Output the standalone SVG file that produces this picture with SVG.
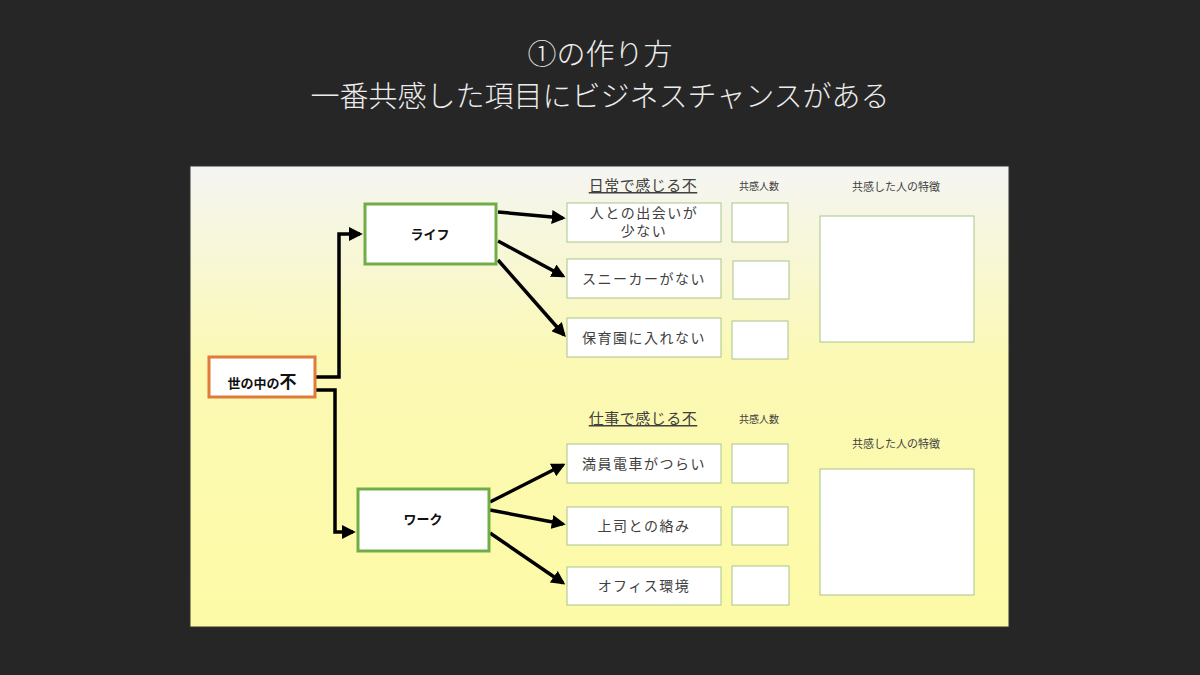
<svg xmlns="http://www.w3.org/2000/svg" width="1200" height="675" viewBox="0 0 1200 675">
<style>
.title{font-family:"Noto Sans CJK JP","Noto Sans",sans-serif;font-size:29px;fill:#ececec;text-anchor:middle;font-weight:300}
.item{fill:#fff;stroke:#a8c48c;stroke-width:1}
.it{font-family:"Noto Sans CJK JP",sans-serif;font-size:14px;fill:#404040;text-anchor:middle;letter-spacing:1.5px}
.hd{font-family:"Noto Sans CJK JP",sans-serif;font-size:15px;fill:#404040;text-anchor:middle;text-decoration:underline;letter-spacing:0.5px}
.sm{font-family:"Noto Sans CJK JP",sans-serif;font-size:10px;fill:#404040;text-anchor:middle}
.sm2{font-family:"Noto Sans CJK JP",sans-serif;font-size:11px;fill:#404040;text-anchor:middle}
.nb{font-family:"Noto Sans CJK JP",sans-serif;font-size:13px;font-weight:bold;fill:#111;text-anchor:middle}
.con{fill:none;stroke:#000;stroke-width:3.5;marker-end:url(#ah)}
</style>
<defs>
<linearGradient id="bg" x1="0" y1="0" x2="0" y2="1">
<stop offset="0" stop-color="#f5f5f3"/>
<stop offset="0.42" stop-color="#fbf9b4"/>
<stop offset="1" stop-color="#fdfaa6"/>
</linearGradient>
<marker id="ah" markerWidth="4" markerHeight="4" refX="3.2" refY="2" orient="auto" markerUnits="strokeWidth">
<path d="M0,0 L4,2 L0,4 z" fill="#000"/>
</marker>
</defs>
<rect width="1200" height="675" fill="#262626"/>
<text class="title" x="600" y="65">①の作り方</text>
<text class="title" x="600" y="107">一番共感した項目にビジネスチャンスがある</text>
<rect x="190" y="166" width="819" height="461" fill="url(#bg)" stroke="#333" stroke-width="1"/>

<g id="connectors">
<path class="con" d="M315,377 H339 V234 H360"/>
<path class="con" d="M315,390 H335 V532 H353"/>
<path class="con" d="M498,212 L563,218"/>
<path class="con" d="M498,241 L563,276"/>
<path class="con" d="M498,260 L564,335"/>
<path class="con" d="M490,502 L563,465"/>
<path class="con" d="M490,510 L563,524"/>
<path class="con" d="M490,533 L563,583"/>
</g>

<g id="root"><rect x="209" y="357" width="106" height="40" fill="#fff" stroke="#e07b39" stroke-width="3"/>
<text class="nb" x="262" y="388">世の中の<tspan font-size="17">不</tspan></text></g>
<g id="life"><rect x="365" y="204" width="131" height="60" fill="#fff" stroke="#70ad47" stroke-width="3"/>
<text class="nb" x="430" y="239">ライフ</text></g>
<g id="work"><rect x="358" y="489" width="131" height="62" fill="#fff" stroke="#70ad47" stroke-width="3"/>
<text class="nb" x="423" y="524">ワーク</text></g>

<g id="header-life">
<text class="hd" x="643" y="191">日常で感じる不</text>
<text class="sm" x="759" y="190">共感人数</text>
<text class="sm2" x="896" y="191">共感した人の特徴</text>
</g>
<g id="l1"><rect class="item" x="567" y="203" width="154" height="39"/><text class="it" x="644" y="218">人との出会いが</text><text class="it" x="644" y="236">少ない</text></g>
<g id="l1c"><rect class="item" x="732" y="203" width="56" height="39"/></g>
<g id="l2"><rect class="item" x="567" y="259" width="154" height="39"/><text class="it" x="644" y="284">スニーカーがない</text></g>
<g id="l2c"><rect class="item" x="733" y="261" width="56" height="38"/></g>
<g id="l3"><rect class="item" x="567" y="318" width="154" height="39"/><text class="it" x="644" y="343">保育園に入れない</text></g>
<g id="l3c"><rect class="item" x="732" y="321" width="56" height="38"/></g>
<g id="lbig"><rect class="item" x="820" y="216" width="154" height="126"/></g>

<g id="header-work">
<text class="hd" x="643" y="424">仕事で感じる不</text>
<text class="sm" x="759" y="423">共感人数</text>
<text class="sm2" x="896" y="448">共感した人の特徴</text>
</g>
<g id="w1"><rect class="item" x="567" y="444" width="154" height="39"/><text class="it" x="644" y="469">満員電車がつらい</text></g>
<g id="w1c"><rect class="item" x="732" y="444" width="56" height="39"/></g>
<g id="w2"><rect class="item" x="567" y="507" width="154" height="38"/><text class="it" x="644" y="531">上司との絡み</text></g>
<g id="w2c"><rect class="item" x="732" y="507" width="56" height="38"/></g>
<g id="w3"><rect class="item" x="567" y="567" width="154" height="38"/><text class="it" x="644" y="591">オフィス環境</text></g>
<g id="w3c"><rect class="item" x="732" y="566" width="57" height="39"/></g>
<g id="wbig"><rect class="item" x="820" y="469" width="154" height="126"/></g>
</svg>
